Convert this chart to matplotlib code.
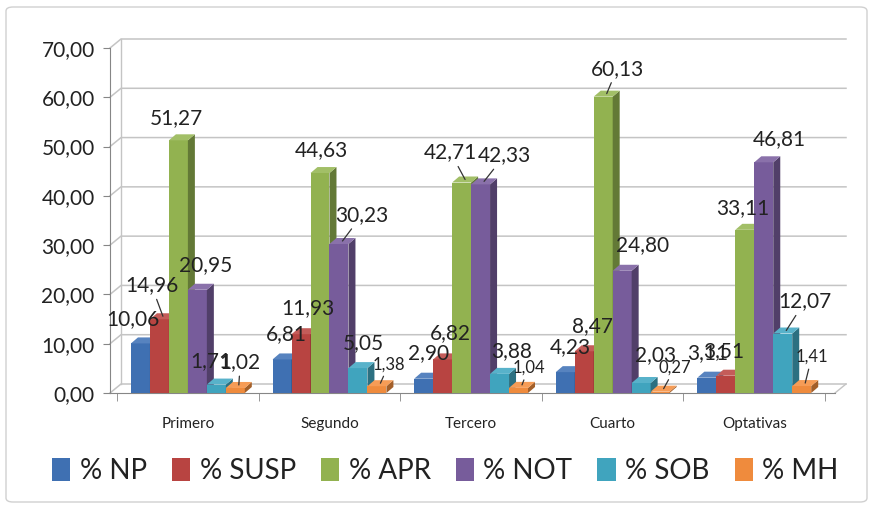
import numpy as np
import matplotlib
matplotlib.use('Agg')
import matplotlib.pyplot as plt
from matplotlib.patches import Polygon, Patch, FancyBboxPatch
import matplotlib.colors as mcolors

categories = ['Primero', 'Segundo', 'Tercero', 'Cuarto', 'Optativas']
series = ['% NP', '% SUSP', '% APR', '% NOT', '% SOB', '% MH']
np_vals = [10.06, 6.81, 2.90, 4.23, 3.11]
susp_vals = [14.96, 11.93, 6.82, 8.47, 3.51]
apr_vals = [51.27, 44.63, 42.71, 60.13, 33.11]
not_vals = [20.95, 30.23, 42.33, 24.80, 46.81]
sob_vals = [1.71, 5.05, 3.88, 2.03, 12.07]
mh_vals = [1.02, 1.38, 1.04, 0.27, 1.41]
yticks = [0, 10, 20, 30, 40, 50, 60, 70]

all_vals = [np_vals, susp_vals, apr_vals, not_vals, sob_vals, mh_vals]
colors = ['#3F70B2', '#B84441', '#92B250', '#775C9B', '#40A4BE', '#EF8B3D']

# label offsets in pixels (right, down) from the bar's front top centre
label_off = [
    [(-8, -24), (-8, -34), (-2, -22), (8, -25), (-6, -23), (5, -26)],
    [(4, -25), (7, -26), (1, -23), (23, -29), (5, -25), (12, -22)],
    [(5, -26), (8, -26), (-11, -30), (24, -29), (12, -23), (10, -20)],
    [(5, -25), (8, -25), (14, -28), (20, -26), (14, -28), (15, -24)],
    [(1, -25), (-2, -25), (-2, -22), (16, -23), (22, -32), (10, -29)],
]
leaders = {(0, 1), (0, 5), (1, 3), (1, 5), (2, 2), (2, 3), (2, 5),
           (3, 2), (3, 5), (4, 4), (4, 5)}
small = {(1, 5), (2, 5), (3, 5), (4, 5)}

plt.rcParams['font.family'] = ['Lato', 'DejaVu Sans']
txt = '#222222'
grid_c = '#C4C4C4'
axis_c = '#868686'

fig = plt.figure(figsize=(8.73, 5.08), dpi=100)
ax = fig.add_axes([110/873, 115/508, 725/873, 345/508])
x0, x1 = -0.55, 4.57
ax.set_xlim(x0, x1)
ax.set_ylim(0, 70)

# pixel -> data conversion
bb = ax.get_window_extent()
ux = (x1 - x0) / bb.width
uy = 70 / bb.height
wdx, wdy = 11*ux, 9*uy      # wall depth
bdx, bdy = 7*ux, 6*uy       # bar depth

# back wall + floor
for v in yticks:
    ax.plot([x0, x0+wdx, x1+wdx], [v, v+wdy, v+wdy], color=grid_c, lw=1.1,
            clip_on=False, zorder=0)
ax.plot([x0+wdx, x0+wdx], [wdy, 70+wdy], color=grid_c, lw=1, clip_on=False, zorder=0)
ax.plot([x1, x1+wdx], [0, wdy], color=grid_c, lw=1, clip_on=False, zorder=0)

bw = 0.134
for j, vals in enumerate(all_vals):
    front = np.array(mcolors.to_rgb(colors[j]))
    side = front*0.68
    top = np.clip(front*0.9 + 0.12, 0, 1)
    for i, v in enumerate(vals):
        x = i + (j - 2.5)*bw
        z = 3 + j*0.1
        ax.bar(x, v, width=bw, color=front, zorder=z, linewidth=0)
        r = x + bw/2
        l = x - bw/2
        ax.add_patch(Polygon([(r, 0), (r+bdx, bdy), (r+bdx, v+bdy), (r, v)],
                             closed=True, facecolor=side, lw=0, zorder=z))
        ax.add_patch(Polygon([(l, v), (r, v), (r+bdx, v+bdy), (l+bdx, v+bdy)],
                             closed=True, facecolor=top, lw=0, zorder=z))
        ox, oy = label_off[i][j]
        lab = f'{v:.2f}'.replace('.', ',')
        fs = 12 if (i, j) in small else 15
        ap = None
        if (i, j) in leaders:
            ap = dict(arrowstyle='-', color='#333333', lw=0.9, shrinkA=1, shrinkB=0)
        ax.annotate(lab, xy=(x + bdx/2, v + bdy/2),
                    xytext=((ox - 3.5)*0.72, -(oy + 3)*0.72),
                    textcoords='offset points', ha='center', va='center',
                    fontsize=fs, color=txt, zorder=10, arrowprops=ap,
                    annotation_clip=False)

# axes styling
for s in ['top', 'right']:
    ax.spines[s].set_visible(False)
ax.spines['left'].set_color(axis_c)
ax.spines['bottom'].set_color(axis_c)
ax.set_yticks(yticks)
ax.set_yticklabels([f'{v:.2f}'.replace('.', ',') for v in yticks],
                   fontsize=15, color=txt)
ax.tick_params(axis='y', length=5, color=axis_c, pad=6)
ax.set_xticks(range(len(categories)))
ax.set_xticklabels(categories, fontsize=11, color=txt)
ax.tick_params(axis='x', which='major', length=0, pad=17)
ax.set_xticks([i - 0.5 for i in range(len(categories) + 1)], minor=True)
ax.tick_params(axis='x', which='minor', length=6, color=axis_c)
ax.patch.set_alpha(0)

handles = [Patch(facecolor=c, edgecolor='none') for c in colors]
fig.legend(handles, series, loc='center', bbox_to_anchor=(0.51, 0.072), ncol=6,
           frameon=False, fontsize=20, handlelength=0.65, handleheight=0.9,
           handletextpad=0.35, columnspacing=0.9, labelcolor=txt)

fig.patches.append(FancyBboxPatch((6/873, 6/508), 861/873, 495/508,
                                  boxstyle='round,pad=0,rounding_size=0.008',
                                  transform=fig.transFigure, fill=False,
                                  edgecolor='#D0D0D0', lw=1))

fig.savefig('out.png', dpi=100)
